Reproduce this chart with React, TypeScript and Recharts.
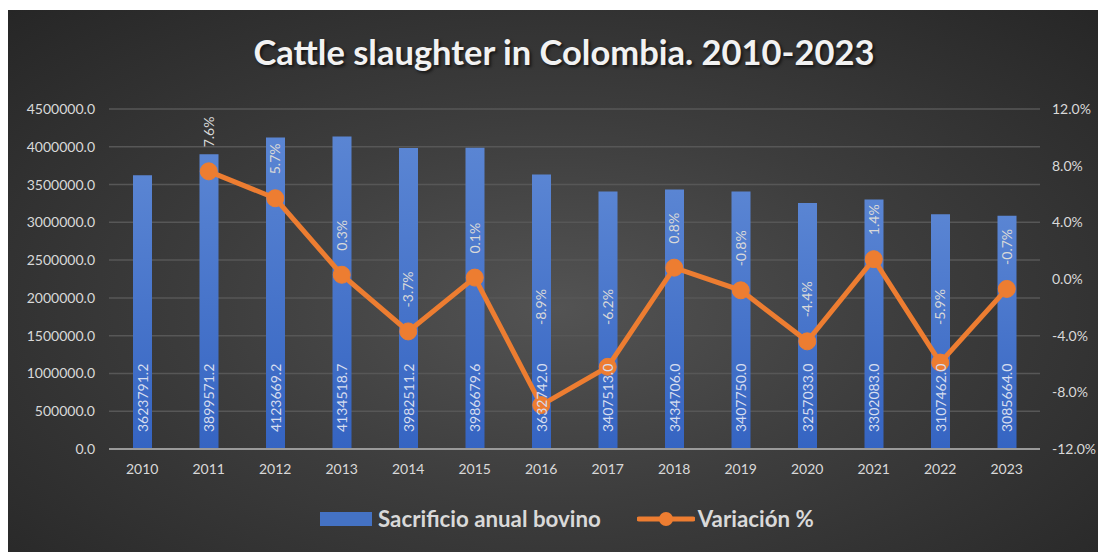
import React from "react";
import {
  ComposedChart,
  Bar,
  Line,
  XAxis,
  YAxis,
  CartesianGrid,
  LabelList,
} from "recharts";

const years = [
  "2010", "2011", "2012", "2013", "2014", "2015", "2016",
  "2017", "2018", "2019", "2020", "2021", "2022", "2023",
];

const sacrificio = [
  3623791.2, 3899571.2, 4123669.2, 4134518.7, 3982511.2, 3986679.6, 3632742.0,
  3407513.0, 3434706.0, 3407750.0, 3257033.0, 3302083.0, 3107462.0, 3085664.0,
];

const variacion = [
  null, 7.6, 5.7, 0.3, -3.7, 0.1, -8.9, -6.2, 0.8, -0.8, -4.4, 1.4, -5.9, -0.7,
];

const leftTicks = [0, 500000, 1000000, 1500000, 2000000, 2500000, 3000000, 3500000, 4000000, 4500000];
const rightTicks = [-12, -8, -4, 0, 4, 8, 12];

const data = years.map((year, i) => ({
  year,
  sacrificio: sacrificio[i],
  variacion: variacion[i],
}));

const FONT = "Lato, 'Open Sans', sans-serif";
const BLUE = "#4472C4";
const ORANGE = "#ED7D31";

const BarValueLabel = (props: any) => {
  const { x, y, width, height, value } = props;
  const cx = x + width / 2;
  const by = y + height - 17;
  return (
    <text
      x={cx}
      y={by}
      dy="0.36em"
      textAnchor="start"
      transform={`rotate(-90, ${cx}, ${by})`}
      fill="#d6ddef"
      fontSize={14}
      fontFamily={FONT}
    >
      {Number(value).toFixed(1)}
    </text>
  );
};

const LineValueLabel = (props: any) => {
  const { x, y, value } = props;
  if (value === null || value === undefined) return null;
  const ty = Math.min(y - 24, 315);
  return (
    <text
      x={x}
      y={ty}
      dy="0.36em"
      textAnchor="start"
      transform={`rotate(-90, ${x}, ${ty})`}
      fill="#d9d9d9"
      fontSize={14}
      fontFamily={FONT}
    >
      {Number(value).toFixed(1)}%
    </text>
  );
};

export default function App() {
  return (
    <div
      style={{
        position: "relative",
        width: 1098,
        height: 542,
        marginTop: 2,
        fontFamily: FONT,
        background:
          "radial-gradient(ellipse farthest-corner at 50% 55%, #535353 0%, #3d3d3d 45%, #262626 100%)",
        overflow: "hidden",
      }}
    >
      <div
        style={{
          position: "absolute",
          top: 21,
          left: 14,
          right: 0,
          textAlign: "center",
          color: "#f2f2f2",
          fontWeight: 700,
          fontSize: 34.5,
          lineHeight: "42px",
          textShadow: "2px 2px 3px rgba(0,0,0,0.6)",
        }}
      >
        Cattle slaughter in Colombia. 2010-2023
      </div>

      <ComposedChart
        width={1098}
        height={542}
        data={data}
        margin={{ top: 99, right: 6, left: 8, bottom: 73 }}
        barCategoryGap="0%"
      >
        <defs>
          <linearGradient id="barFill" x1="0" y1="0" x2="0" y2="1">
            <stop offset="0%" stopColor="#5a85d3" />
            <stop offset="100%" stopColor="#3564c2" />
          </linearGradient>
        </defs>
        <CartesianGrid yAxisId="left" vertical={false} stroke="#575757" strokeWidth={1.5} />
        <XAxis
          dataKey="year"
          tickSize={0}
          tickMargin={15}
          height={30}
          axisLine={{ stroke: "#9a9a9a", strokeWidth: 2 }}
          tick={{ fill: "#d9d9d9", fontSize: 14, fontFamily: FONT }}
        />
        <YAxis
          yAxisId="left"
          width={93}
          domain={[0, 4500000]}
          ticks={leftTicks}
          axisLine={false}
          tickSize={0}
          tickMargin={14}
          tickFormatter={(v: number) => v.toFixed(1)}
          tick={{ fill: "#d9d9d9", fontSize: 14, fontFamily: FONT }}
        />
        <YAxis
          yAxisId="right"
          orientation="right"
          width={60}
          domain={[-12, 12]}
          ticks={rightTicks}
          axisLine={false}
          tickSize={0}
          tickMargin={12}
          tickFormatter={(v: number) => `${v.toFixed(1)}%`}
          tick={{ fill: "#d9d9d9", fontSize: 14, fontFamily: FONT }}
        />
        <Bar
          yAxisId="left"
          dataKey="sacrificio"
          barSize={19}
          fill="url(#barFill)"
          isAnimationActive={false}
        >
          <LabelList dataKey="sacrificio" content={BarValueLabel} />
        </Bar>
        <Line
          yAxisId="right"
          dataKey="variacion"
          stroke={ORANGE}
          strokeWidth={5}
          dot={{ r: 8.5, fill: ORANGE, stroke: ORANGE, strokeWidth: 1 }}
          activeDot={false}
          connectNulls={false}
          isAnimationActive={false}
        >
          <LabelList dataKey="variacion" content={LineValueLabel} />
        </Line>
      </ComposedChart>

      <div
        style={{
          position: "absolute",
          top: 495,
          left: 312,
          display: "flex",
          alignItems: "center",
          color: "#d9d9d9",
          fontWeight: 700,
          fontSize: 22.3,
          lineHeight: "28px",
        }}
      >
        <span
          style={{
            display: "inline-block",
            width: 52,
            height: 14,
            background: BLUE,
            marginRight: 6,
          }}
        />
        <span>Sacrificio anual bovino</span>
        <svg width={58} height={20} style={{ marginLeft: 36, marginRight: 3 }}>
          <line x1={2} y1={10} x2={56} y2={10} stroke={ORANGE} strokeWidth={5} strokeLinecap="round" />
          <circle cx={29} cy={10} r={7} fill={ORANGE} />
        </svg>
        <span>Variación %</span>
      </div>
    </div>
  );
}
